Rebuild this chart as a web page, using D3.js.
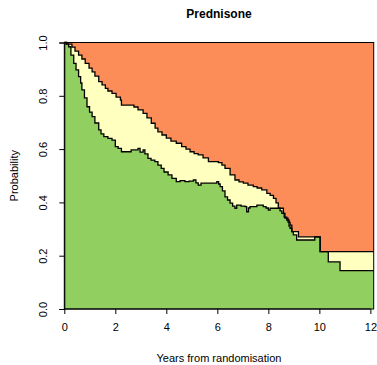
<!DOCTYPE html>
<html>
<head>
<meta charset="utf-8">
<script src="https://cdn.jsdelivr.net/npm/d3@7"></script>
<style>
  body { margin: 0; background: #fff; }
  text { font-family: "Liberation Sans", Arial, sans-serif; fill: #000; }
</style>
</head>
<body>
<div id="chart"></div>
<script>
// state probabilities (step functions)
var lowerTimes = [0, 0.07, 0.17, 0.26, 0.37, 0.46, 0.56, 0.64, 0.69, 0.79, 0.89, 0.99, 1.09, 1.20, 1.35, 1.44, 1.55, 1.71, 1.87, 2.00,
  2.11, 2.24, 2.50, 2.62, 2.76, 2.89, 2.97, 3.09, 3.16, 3.28, 3.40, 3.55, 3.67, 3.80, 3.91, 4.07, 4.22, 4.39, 4.54, 4.73,
  4.89, 5.06, 5.16, 5.25, 5.36, 5.91, 5.98, 6.05, 6.11, 6.20, 6.30, 6.40, 6.50, 6.60, 6.69, 6.76, 6.93, 7.09, 7.15, 7.22,
  7.28, 7.55, 7.80, 7.91, 8.00, 8.07, 8.46, 8.53, 8.62, 8.72, 8.81, 8.85, 8.92, 8.98, 9.11, 9.82, 10.03, 10.35, 10.81, 12.13];
var lowerProb = [1.0, 0.994, 0.984, 0.953, 0.922, 0.897, 0.872, 0.848, 0.822, 0.792, 0.759, 0.739, 0.722, 0.698, 0.672, 0.657, 0.647, 0.640, 0.634, 0.609,
  0.603, 0.590, 0.590, 0.597, 0.597, 0.603, 0.589, 0.597, 0.582, 0.565, 0.559, 0.553, 0.540, 0.528, 0.514, 0.503, 0.490, 0.478, 0.482, 0.478,
  0.480, 0.484, 0.473, 0.465, 0.472, 0.472, 0.478, 0.469, 0.459, 0.443, 0.421, 0.409, 0.397, 0.386, 0.378, 0.390, 0.386, 0.384, 0.365, 0.379,
  0.384, 0.390, 0.384, 0.379, 0.371, 0.378, 0.368, 0.359, 0.345, 0.334, 0.311, 0.303, 0.290, 0.278, 0.259, 0.271, 0.215, 0.177, 0.144, 0.144];

var upperTimes = [0, 0.10, 0.30, 0.42, 0.56, 0.69, 0.82, 0.97, 1.09, 1.20, 1.35, 1.48, 1.61, 1.71, 1.87, 2.03, 2.20, 2.24, 2.63, 2.73,
  2.89, 3.09, 3.24, 3.41, 3.56, 3.67, 3.83, 4.00, 4.18, 4.39, 4.60, 4.77, 4.93, 5.09, 5.25, 5.44, 5.65, 6.04, 6.18, 6.30,
  6.50, 6.69, 6.85, 7.02, 7.20, 7.41, 7.56, 7.74, 7.94, 8.07, 8.20, 8.30, 8.39, 8.59, 8.65, 8.77, 8.85, 8.92, 9.18, 10.03, 12.13];
var upperProb = [1.0, 0.994, 0.983, 0.968, 0.953, 0.938, 0.922, 0.904, 0.890, 0.874, 0.853, 0.841, 0.828, 0.818, 0.809, 0.795, 0.784, 0.765, 0.765, 0.758,
  0.747, 0.734, 0.717, 0.697, 0.679, 0.665, 0.653, 0.641, 0.630, 0.622, 0.609, 0.600, 0.590, 0.583, 0.578, 0.567, 0.553, 0.549, 0.540, 0.528,
  0.503, 0.484, 0.477, 0.472, 0.465, 0.459, 0.454, 0.447, 0.434, 0.426, 0.415, 0.398, 0.378, 0.359, 0.341, 0.326, 0.315, 0.290, 0.271, 0.215, 0.215];

var xTicks = [0, 2, 4, 6, 8, 10, 12];
var yTicks = [0, 0.2, 0.4, 0.6, 0.8, 1.0];

var W = 377, H = 365;
var margin = {top: 42.5, right: 3.3, bottom: 56, left: 64.3},
    width = W - margin.left - margin.right,
    height = H - margin.top - margin.bottom;

var x = d3.scaleLinear().domain([0, 12.13]).range([0, width]);
var y = d3.scaleLinear().domain([0, 1]).range([height, 0]);

var svg = d3.select("#chart").append("svg")
    .attr("width", W)
    .attr("height", H);

var g = svg.append("g")
    .attr("transform", "translate(" + margin.left + "," + margin.top + ")");

var lower = lowerTimes.map(function(t, i) { return {t: t, p: lowerProb[i]}; });
var upper = upperTimes.map(function(t, i) { return {t: t, p: upperProb[i]}; });

var areaTop = d3.area().curve(d3.curveStepAfter)
    .x(function(d) { return x(d.t); })
    .y0(function(d) { return y(d.p); })
    .y1(y(1));
var areaBottom = d3.area().curve(d3.curveStepAfter)
    .x(function(d) { return x(d.t); })
    .y0(y(0))
    .y1(function(d) { return y(d.p); });
var line = d3.line().curve(d3.curveStepAfter)
    .x(function(d) { return x(d.t); })
    .y(function(d) { return y(d.p); });

g.append("path").attr("d", areaTop(upper)).attr("fill", "#FC8D59");
g.append("path").attr("d", areaBottom(upper)).attr("fill", "#FFFFBF");
g.append("path").attr("d", areaBottom(lower)).attr("fill", "#91CF60");

g.append("path").attr("d", line(upper))
    .attr("fill", "none").attr("stroke", "#000").attr("stroke-width", 1.3);
g.append("path").attr("d", line(lower))
    .attr("fill", "none").attr("stroke", "#000").attr("stroke-width", 1.3);

// box
g.append("rect")
    .attr("width", width).attr("height", height)
    .attr("fill", "none").attr("stroke", "#000").attr("stroke-width", 1);

// axes, R style
var xAxis = d3.axisBottom(x).tickValues(xTicks).tickSize(5).tickPadding(9)
    .tickFormat(d3.format("d"));
var yAxis = d3.axisLeft(y).tickValues(yTicks).tickSize(5).tickFormat(d3.format(".1f"));

var gx = g.append("g")
    .attr("transform", "translate(0," + height + ")")
    .call(xAxis);
gx.select(".domain").attr("d", "M" + x(0) + ",0H" + x(12));
gx.selectAll("text").style("font-size", "11px");

var gy = g.append("g").call(yAxis);
gy.selectAll("text")
    .style("font-size", "11px")
    .attr("text-anchor", "middle")
    .attr("dy", null)
    .attr("transform", "rotate(-90)")
    .attr("x", 0)
    .attr("y", -17.8);

svg.selectAll(".domain, .tick line").attr("stroke", "#000");

svg.append("text")
    .attr("x", margin.left + width / 2)
    .attr("y", 17.5)
    .attr("text-anchor", "middle")
    .style("font-size", "12px")
    .style("font-weight", "bold")
    .text("Prednisone");

svg.append("text")
    .attr("x", margin.left + width / 2)
    .attr("y", 362)
    .attr("text-anchor", "middle")
    .style("font-size", "11px")
    .text("Years from randomisation");

svg.append("text")
    .attr("transform", "translate(18," + (margin.top + height / 2) + ") rotate(-90)")
    .attr("text-anchor", "middle")
    .style("font-size", "11px")
    .text("Probability");
</script>
</body>
</html>
